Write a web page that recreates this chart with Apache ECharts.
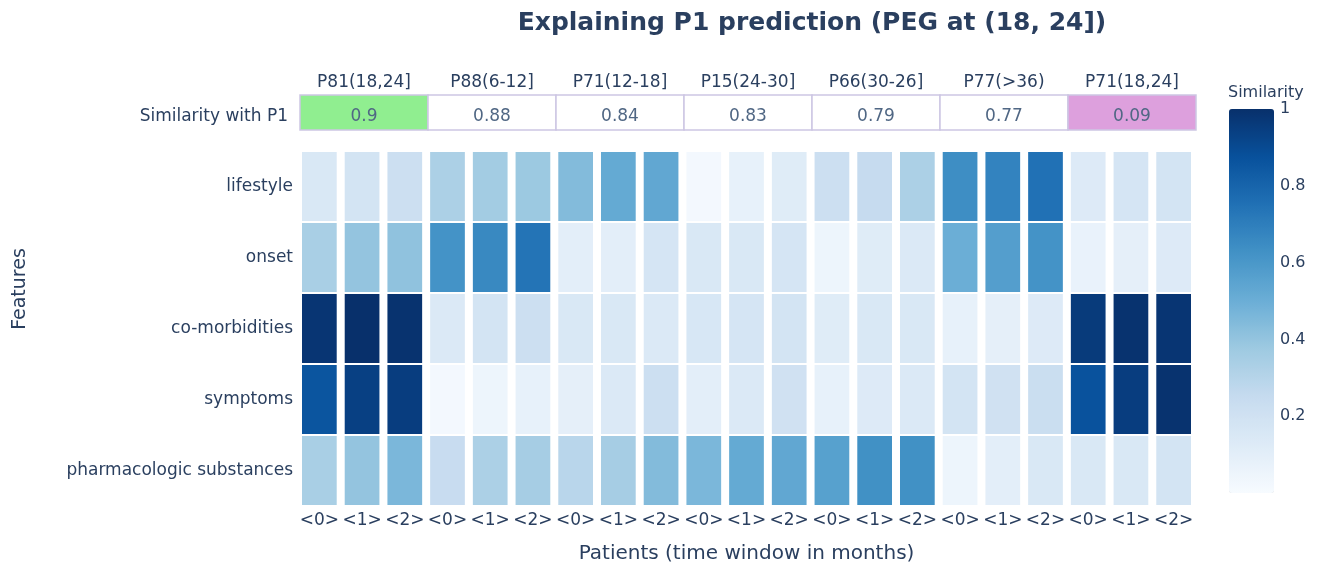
<!DOCTYPE html>
<html>
<head>
  <meta charset="utf-8">
  <title>Explaining P1 prediction</title>
  <script src="https://cdn.jsdelivr.net/npm/echarts@6/dist/echarts.min.js"></script>
  <style>
    html, body { margin: 0; padding: 0; background: #fff; }
    #chart { width: 1318px; height: 569px; }
  </style>
</head>
<body>
  <div id="chart"></div>
  <script>
    // header table: one patient per 3 time windows
    const patients = ['P81(18,24]', 'P88(6-12]', 'P71(12-18]', 'P15(24-30]', 'P66(30-26]', 'P77(>36)', 'P71(18,24]'];
    const similarityWithP1 = [0.9, 0.88, 0.84, 0.83, 0.79, 0.77, 0.09];

    const xLabels = ['<0>', '<1>', '<2>', '<0>', '<1>', '<2>', '<0>', '<1>', '<2>', '<0>', '<1>', '<2>',
                     '<0>', '<1>', '<2>', '<0>', '<1>', '<2>', '<0>', '<1>', '<2>'];
    const features = ['lifestyle', 'onset', 'co-morbidities', 'symptoms', 'pharmacologic substances'];

    const lifestyle     = [0.15, 0.18, 0.22, 0.33, 0.36, 0.38, 0.44, 0.52, 0.53, 0.02, 0.08, 0.12, 0.22, 0.25, 0.33, 0.64, 0.68, 0.75, 0.13, 0.17, 0.18];
    const onset         = [0.34, 0.40, 0.41, 0.62, 0.66, 0.74, 0.10, 0.10, 0.17, 0.15, 0.15, 0.17, 0.05, 0.12, 0.14, 0.50, 0.57, 0.62, 0.07, 0.09, 0.13];
    const comorbidities = [0.98, 1.00, 0.99, 0.14, 0.18, 0.22, 0.15, 0.15, 0.14, 0.16, 0.17, 0.18, 0.12, 0.15, 0.15, 0.08, 0.09, 0.13, 0.96, 0.99, 0.98];
    const symptoms      = [0.86, 0.94, 0.95, 0.02, 0.05, 0.08, 0.09, 0.14, 0.22, 0.10, 0.14, 0.20, 0.08, 0.13, 0.14, 0.18, 0.20, 0.23, 0.87, 0.95, 0.99];
    const pharmacologic = [0.34, 0.40, 0.46, 0.24, 0.33, 0.35, 0.29, 0.35, 0.44, 0.46, 0.52, 0.53, 0.56, 0.63, 0.63, 0.05, 0.10, 0.15, 0.15, 0.15, 0.18];

    const colorTicks = [0.2, 0.4, 0.6, 0.8, 1];

    const rows = [lifestyle, onset, comorbidities, symptoms, pharmacologic];
    let cells = [];
    rows.forEach((row, j) => row.forEach((v, i) => cells.push([i, j, v])));

    const headerFill = ['#90ee90', '#fff', '#fff', '#fff', '#fff', '#fff', '#dda0dd'];
    const blues = ['#f7fbff', '#deebf7', '#c6dbef', '#9ecae1', '#6baed6', '#4292c6', '#2171b5', '#08519c', '#08306b'];

    const FONT = 'DejaVu Sans, Verdana, sans-serif';
    const INK = '#2a3f5f';

    let myChart = echarts.init(document.getElementById('chart'));
    let option = {
      animation: false,
      textStyle: { fontFamily: FONT, color: INK },
      graphic: [
        { type: 'text', x: 812, y: 23, style: { text: 'Explaining P1 prediction (PEG at (18, 24])', font: 'bold 25px ' + FONT, fill: INK, align: 'center', verticalAlign: 'middle' } },
        { type: 'text', x: 20, y: 289, rotation: Math.PI / 2, style: { text: 'Features', font: '19px ' + FONT, fill: INK, align: 'center', verticalAlign: 'middle' } },
        { type: 'text', x: 1228, y: 93, style: { text: 'Similarity', font: '16px ' + FONT, fill: INK, align: 'left', verticalAlign: 'middle' } }
      ],
      grid: [
        { left: 300, right: 122, top: 95, height: 35 },
        { left: 298, right: 123, top: 151, bottom: 62 },
        { left: 1229, top: 109, width: 45, height: 384 }
      ],
      xAxis: [
        {
          gridIndex: 0, type: 'category', data: patients, position: 'top',
          axisLine: { show: false }, axisTick: { show: false },
          axisLabel: { fontSize: 17, color: INK, margin: 4 }
        },
        {
          gridIndex: 1, type: 'category', data: xLabels,
          axisLine: { show: false }, axisTick: { show: false },
          axisLabel: { fontSize: 17, color: INK, margin: 6, interval: 0 },
          name: 'Patients (time window in months)', nameLocation: 'middle', nameGap: 38,
          nameTextStyle: { fontSize: 20, color: INK }
        },
        { gridIndex: 2, type: 'value', show: false, min: 0, max: 1 }
      ],
      yAxis: [
        {
          gridIndex: 0, type: 'category', data: ['Similarity with P1'],
          axisLine: { show: false }, axisTick: { show: false },
          axisLabel: {
            margin: 12, formatter: v => '{a|' + v + '}',
            rich: { a: { fontSize: 17, color: INK, fontFamily: FONT, padding: [9, 0, 0, 0] } }
          }
        },
        {
          gridIndex: 1, type: 'category', data: features, inverse: true,
          axisLine: { show: false }, axisTick: { show: false },
          axisLabel: { fontSize: 17, color: INK, margin: 5 }
        },
        {
          gridIndex: 2, type: 'value', min: 0, max: 1, interval: 0.2, position: 'right',
          axisLine: { show: false }, axisTick: { show: false }, splitLine: { show: false },
          axisLabel: { fontSize: 16, color: INK, margin: 6, formatter: v => colorTicks.includes(v) ? String(v) : '' }
        }
      ],
      visualMap: {
        type: 'continuous', min: 0, max: 1, seriesIndex: 1, dimension: 2,
        left: 1229, top: 109, itemWidth: 45, itemHeight: 384, padding: 0,
        calculable: false, inRange: { color: blues }
      },
      series: [
        {
          type: 'custom', xAxisIndex: 0, yAxisIndex: 0,
          data: similarityWithP1.map((v, i) => [i, 0, v]),
          renderItem: function (params, api) {
            const c = api.coord([api.value(0), api.value(1)]);
            const s = api.size([1, 1]);
            return {
              type: 'group',
              children: [
                { type: 'rect', shape: { x: c[0] - s[0] / 2, y: c[1] - s[1] / 2, width: s[0], height: s[1] },
                  style: { fill: headerFill[params.dataIndex], stroke: '#cdc6e3', lineWidth: 1.5 } },
                { type: 'text', style: { text: String(api.value(2)), x: c[0], y: c[1] + 4, align: 'center', verticalAlign: 'middle',
                  font: '17px ' + FONT, fill: '#506784' } }
              ]
            };
          }
        },
        {
          type: 'custom', xAxisIndex: 1, yAxisIndex: 1,
          data: cells,
          encode: { x: 0, y: 1 },
          renderItem: function (params, api) {
            const c = api.coord([api.value(0), api.value(1)]);
            const s = api.size([1, 1]);
            return {
              type: 'rect',
              shape: { x: c[0] - s[0] / 2 + 4, y: c[1] - s[1] / 2 + 1, width: s[0] - 8, height: s[1] - 2 },
              style: { fill: api.visual('color') }
            };
          }
        }
      ]
    };
    myChart.setOption(option);
  </script>
</body>
</html>
